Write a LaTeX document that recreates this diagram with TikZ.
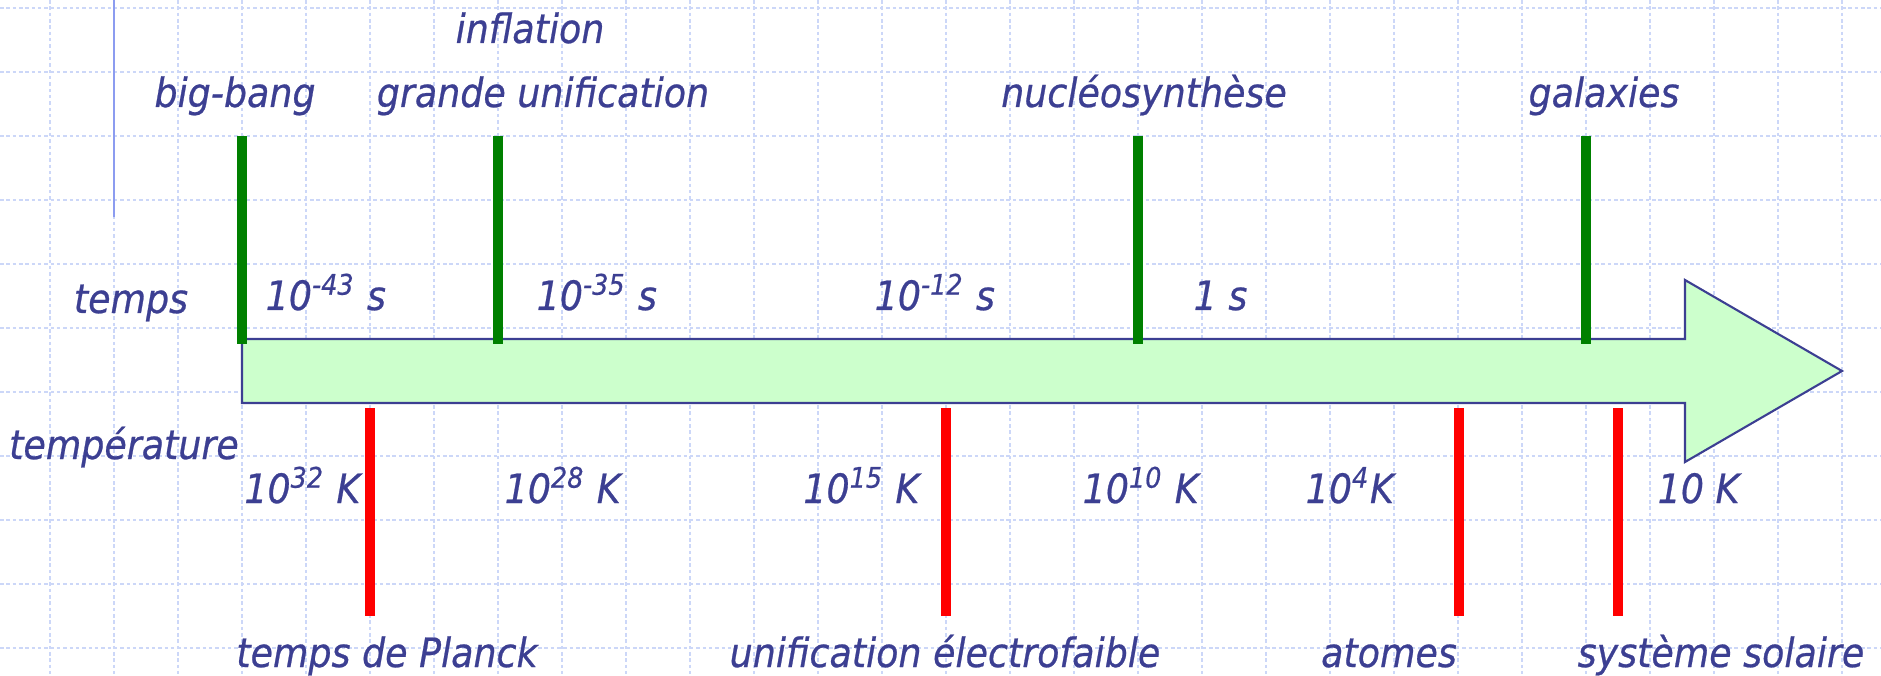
\documentclass[tikz,border=0pt]{standalone}
\usepackage{fontspec}
\setmainfont{DejaVu Sans}[FakeStretch=0.9,FakeBold=0.6]
\usepackage{xcolor}
\definecolor{slideink}{HTML}{3C3F92}
\definecolor{gridblue}{HTML}{CCD7F8}
\definecolor{rulerblue}{HTML}{8C9CF0}
\definecolor{arrowfill}{HTML}{CCFFCC}
\definecolor{epochgreen}{HTML}{008000}
\definecolor{epochred}{HTML}{FF0000}
\tikzset{
  lbl/.style={text=slideink,font=\fontsize{11.5}{14}\selectfont\itshape,inner sep=0pt},
  gridline/.style={gridblue,line width=0.4pt,dash pattern=on 1pt off 0.8pt},
  greenbar/.style={epochgreen,line width=0.1cm},
  redbar/.style={epochred,line width=0.1cm}
}

\begin{document}
\begin{tikzpicture}[x=0.01cm,y=-0.01cm]
\useasboundingbox (0,0) rectangle (1881,676);
\foreach \x in {0,...,28}{
  \draw[gridline] (50+64*\x,0) -- (50+64*\x,676);
}
\foreach \y in {0,...,10}{
  \draw[gridline] (0,8+64*\y) -- (1881,8+64*\y);
}
\draw[rulerblue,line width=0.7pt] (114,0) -- (114,217);
\filldraw[fill=arrowfill,draw=slideink,line width=0.6pt] (242,339) -- (1685,339) -- (1685,280) -- (1842,371) -- (1685,462) -- (1685,403) -- (242,403) -- cycle;
\foreach \x in {242,498,1138,1586}{
  \draw[greenbar] (\x,136) -- (\x,344);
}
\foreach \x in {370,946,1459,1618}{
  \draw[redbar] (\x,408) -- (\x,616);
}
\node[lbl,anchor=base] (inflation) at (530,43) {inflation};
\node[lbl,anchor=base] (bigbang) at (235,107) {big-bang};
\node[lbl,anchor=base] (gut) at (543,107) {grande unification};
\node[lbl,anchor=base] (nucleo) at (1144,107) {nucléosynthèse};
\node[lbl,anchor=base] (galaxies) at (1604,107) {galaxies};
\node[lbl,anchor=base] (temps) at (131,313) {temps};
\node[lbl,anchor=base west] (t43) at (265,310) {10\textsuperscript{-43} s};
\node[lbl,anchor=base west] (t35) at (536,310) {10\textsuperscript{-35} s};
\node[lbl,anchor=base west] (t12) at (874,310) {10\textsuperscript{-12} s};
\node[lbl,anchor=base west] (t1) at (1193,310) {1 s};
\node[lbl,anchor=base] (temperature) at (124,459) {température};
\node[lbl,anchor=base east] (k32) at (361,503) {10\textsuperscript{32} K};
\node[lbl,anchor=base west] (k28) at (504,503) {10\textsuperscript{28} K};
\node[lbl,anchor=base east] (k15) at (920,503) {10\textsuperscript{15} K};
\node[lbl,anchor=base west] (k10) at (1082,503) {10\textsuperscript{10} K};
\node[lbl,anchor=base west] (k4) at (1305,503) {10\textsuperscript{4}K};
\node[lbl,anchor=base west] (k1) at (1657,503) {10 K};
\node[lbl,anchor=base] (planck) at (387,667) {temps de Planck};
\node[lbl,anchor=base] (electro) at (945,667) {unification électrofaible};
\node[lbl,anchor=base] (atomes) at (1389,667) {atomes};
\node[lbl,anchor=base] (solaire) at (1721,667) {système solaire};
\end{tikzpicture}
\end{document}
